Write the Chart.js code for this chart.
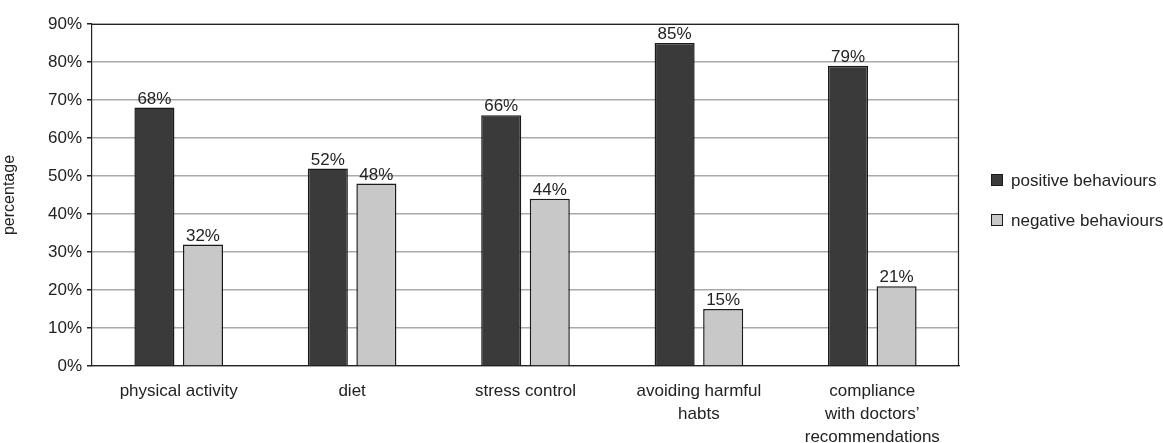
<!DOCTYPE html>
<html>
<head>
<meta charset="utf-8">
<script src="https://cdn.jsdelivr.net/npm/chart.js@4/dist/chart.umd.min.js"></script>
<style>
html,body{margin:0;padding:0;background:#fff;}
#wrap{width:1163px;height:443px;position:relative;}
</style>
</head>
<body>
<div id="wrap"><canvas id="c"></canvas></div>
<script>
const categories = [
  "physical activity",
  "diet",
  "stress control",
  ["avoiding harmful", "habts"],
  ["compliance", "with doctors’", "recommendations"]
];
const positiveValues = [68, 52, 66, 85, 79];
const negativeValues = [32, 48, 44, 15, 21];
const seriesNames = ["positive behaviours", "negative behaviours"];
const yTicks = [0, 10, 20, 30, 40, 50, 60, 70, 80, 90];

const FONT = "'Liberation Sans', Arial, Helvetica, sans-serif";
const TXT = '#222';

const valueLabels = {
  id: 'valueLabels',
  afterDatasetsDraw(chart) {
    const ctx = chart.ctx;
    ctx.save();
    ctx.font = '17px ' + FONT;
    ctx.fillStyle = TXT;
    ctx.textAlign = 'center';
    ctx.textBaseline = 'bottom';
    chart.data.datasets.forEach((ds, i) => {
      chart.getDatasetMeta(i).data.forEach((el, j) => {
        ctx.fillText(ds.data[j] + '%', el.x, el.y);
      });
    });
    ctx.restore();
  }
};

const frame = {
  id: 'frame',
  afterDraw(chart) {
    const a = chart.chartArea, ctx = chart.ctx;
    ctx.save();
    ctx.strokeStyle = '#222';
    ctx.lineWidth = 1.2;
    ctx.beginPath();
    ctx.moveTo(a.left, a.top + 0.5);
    ctx.lineTo(a.right - 0.5, a.top + 0.5);
    ctx.lineTo(a.right - 0.5, a.bottom);
    ctx.stroke();
    ctx.restore();
  }
};

const sideLegend = {
  id: 'sideLegend',
  afterDraw(chart) {
    const ctx = chart.ctx;
    ctx.save();
    ctx.font = '17px ' + FONT;
    ctx.textBaseline = 'middle';
    ctx.textAlign = 'left';
    const x = chart.chartArea.right + 32;
    const ys = [180, 220];
    chart.data.datasets.forEach((ds, i) => {
      const y = ys[i];
      ctx.fillStyle = ds.backgroundColor;
      ctx.fillRect(x, y - 6, 12, 12);
      ctx.strokeStyle = ds.borderColor;
      ctx.lineWidth = 1;
      ctx.strokeRect(x + 0.5, y - 5.5, 11, 11);
      ctx.fillStyle = TXT;
      ctx.fillText(ds.label, x + 20, y + 1);
    });
    ctx.restore();
  }
};

new Chart(document.getElementById('c'), {
  type: 'bar',
  data: {
    labels: categories,
    datasets: [
      { label: seriesNames[0], data: positiveValues, backgroundColor: '#3a3a3a', borderColor: '#1a1a1a', borderWidth: 1.5 },
      { label: seriesNames[1], data: negativeValues, backgroundColor: '#c8c8c8', borderColor: '#1a1a1a', borderWidth: 1.5 }
    ]
  },
  options: {
    responsive: true,
    maintainAspectRatio: false,
    animation: false,
    devicePixelRatio: 1,
    layout: { padding: { top: 24, right: 204, left: 0, bottom: 0 } },
    datasets: { bar: { categoryPercentage: 0.56, barPercentage: 0.825 } },
    plugins: {
      legend: { display: false },
      tooltip: { enabled: false }
    },
    scales: {
      x: {
        grid: { display: false },
        border: { display: true, color: '#222', width: 1.2 },
        ticks: { color: TXT, font: { family: FONT, size: 17, lineHeight: 1.35 }, padding: 6, maxRotation: 0, autoSkip: false },
        afterFit(s) { s.height = 77; }
      },
      y: {
        min: 0, max: 90,
        afterBuildTicks(s) { s.ticks = yTicks.map(v => ({ value: v })); },
        grid: { color: '#aaaaaa', lineWidth: 1.5, tickColor: '#222', tickLength: 5, drawTicks: true },
        border: { display: true, color: '#222', width: 1.2 },
        ticks: { color: TXT, font: { family: FONT, size: 17 }, padding: 5, callback: v => v + '%' },
        title: { display: true, text: 'percentage', color: TXT, font: { family: FONT, size: 16 }, padding: { top: 0, bottom: 0 } },
        afterFit(s) { s.width = 92; }
      }
    }
  },
  plugins: [valueLabels, frame, sideLegend]
});
</script>
</body>
</html>
